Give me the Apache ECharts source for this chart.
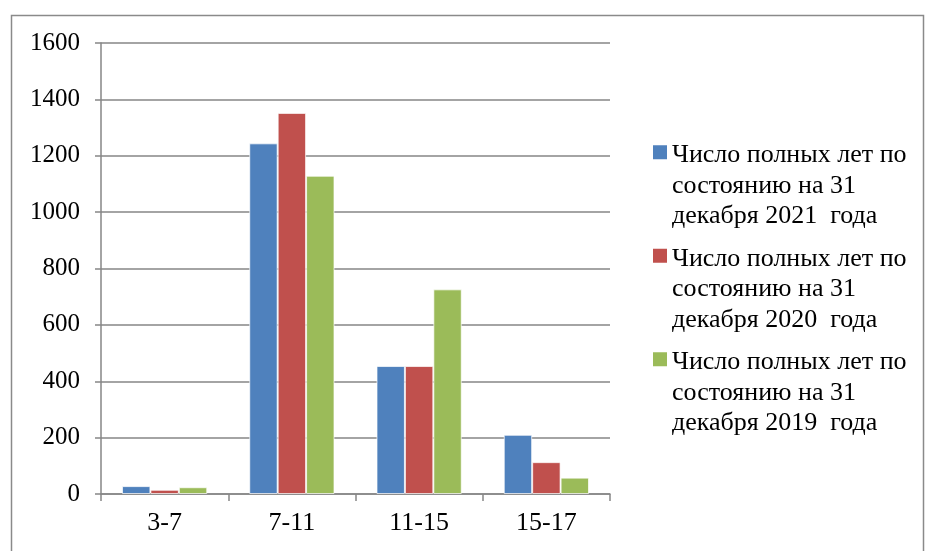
<!DOCTYPE html>
<html>
<head>
<meta charset="utf-8">
<script src="https://cdn.jsdelivr.net/npm/echarts@6/dist/echarts.min.js"></script>
<style>html,body{margin:0;padding:0;background:#fff;}#c{width:925px;height:551px;}</style>
</head>
<body>
<div id="c"></div>
<script>
const categories = ['3-7', '7-11', '11-15', '15-17'];
const seriesNames = [
  'Число полных лет по\nсостоянию на 31\nдекабря 2021  года',
  'Число полных лет по\nсостоянию на 31\nдекабря 2020  года',
  'Число полных лет по\nсостоянию на 31\nдекабря 2019  года'
];
const values2021 = [28, 1244, 454, 210];
const values2020 = [15, 1352, 454, 113];
const values2019 = [24, 1129, 726, 58];
const yTicks = [0, 200, 400, 600, 800, 1000, 1200, 1400, 1600];
const colors = ['#4F81BD', '#C0504D', '#9BBB59'];

const FONT = '"Liberation Serif", "Times New Roman", serif';
const chart = echarts.init(document.getElementById('c'), null, {renderer: 'canvas'});
const iconPath = 'path://M0,0 M0,5h14v14h-14z M14,91';
const allValues = [values2021, values2020, values2019];

chart.setOption({
  animation: false,
  backgroundColor: '#fff',
  color: colors,
  graphic: [{
    type: 'rect', left: 9, top: 13, silent: true,
    shape: {width: 912, height: 560},
    style: {fill: 'none', stroke: '#8a8a8a', lineWidth: 1.5}
  }],
  grid: {left: 101, right: 315, top: 43, bottom: 57},
  legend: {
    orient: 'vertical',
    left: 648, top: 135,
    itemWidth: 14, itemHeight: 91,
    itemGap: 12,
    icon: iconPath,
    itemStyle: {borderWidth: 0},
    textStyle: {fontFamily: FONT, fontSize: 26, color: '#000', lineHeight: 30.5},
    data: seriesNames
  },
  xAxis: {
    type: 'category',
    data: categories,
    axisLine: {lineStyle: {color: '#868686', width: 1.5}},
    axisTick: {show: true, length: 7, lineStyle: {color: '#868686', width: 1.5}},
    axisLabel: {fontFamily: FONT, fontSize: 26, color: '#000', margin: 16}
  },
  yAxis: {
    type: 'value',
    min: yTicks[0], max: yTicks[yTicks.length - 1], interval: 200,
    axisLine: {show: true, lineStyle: {color: '#868686', width: 1.5}},
    axisTick: {show: true, length: 6, lineStyle: {color: '#868686', width: 1.5}},
    splitLine: {lineStyle: {color: '#868686', width: 1.5}},
    axisLabel: {fontFamily: FONT, fontSize: 25, color: '#000', margin: 21, formatter: v => String(v)}
  },
  series: seriesNames.map((n, i) => ({
    name: n,
    type: 'bar',
    data: allValues[i],
    barGap: '0%',
    barCategoryGap: '33%',
    itemStyle: {color: colors[i], borderColor: 'rgba(255,255,255,0.7)', borderWidth: 1}
  }))
});
</script>
</body>
</html>
